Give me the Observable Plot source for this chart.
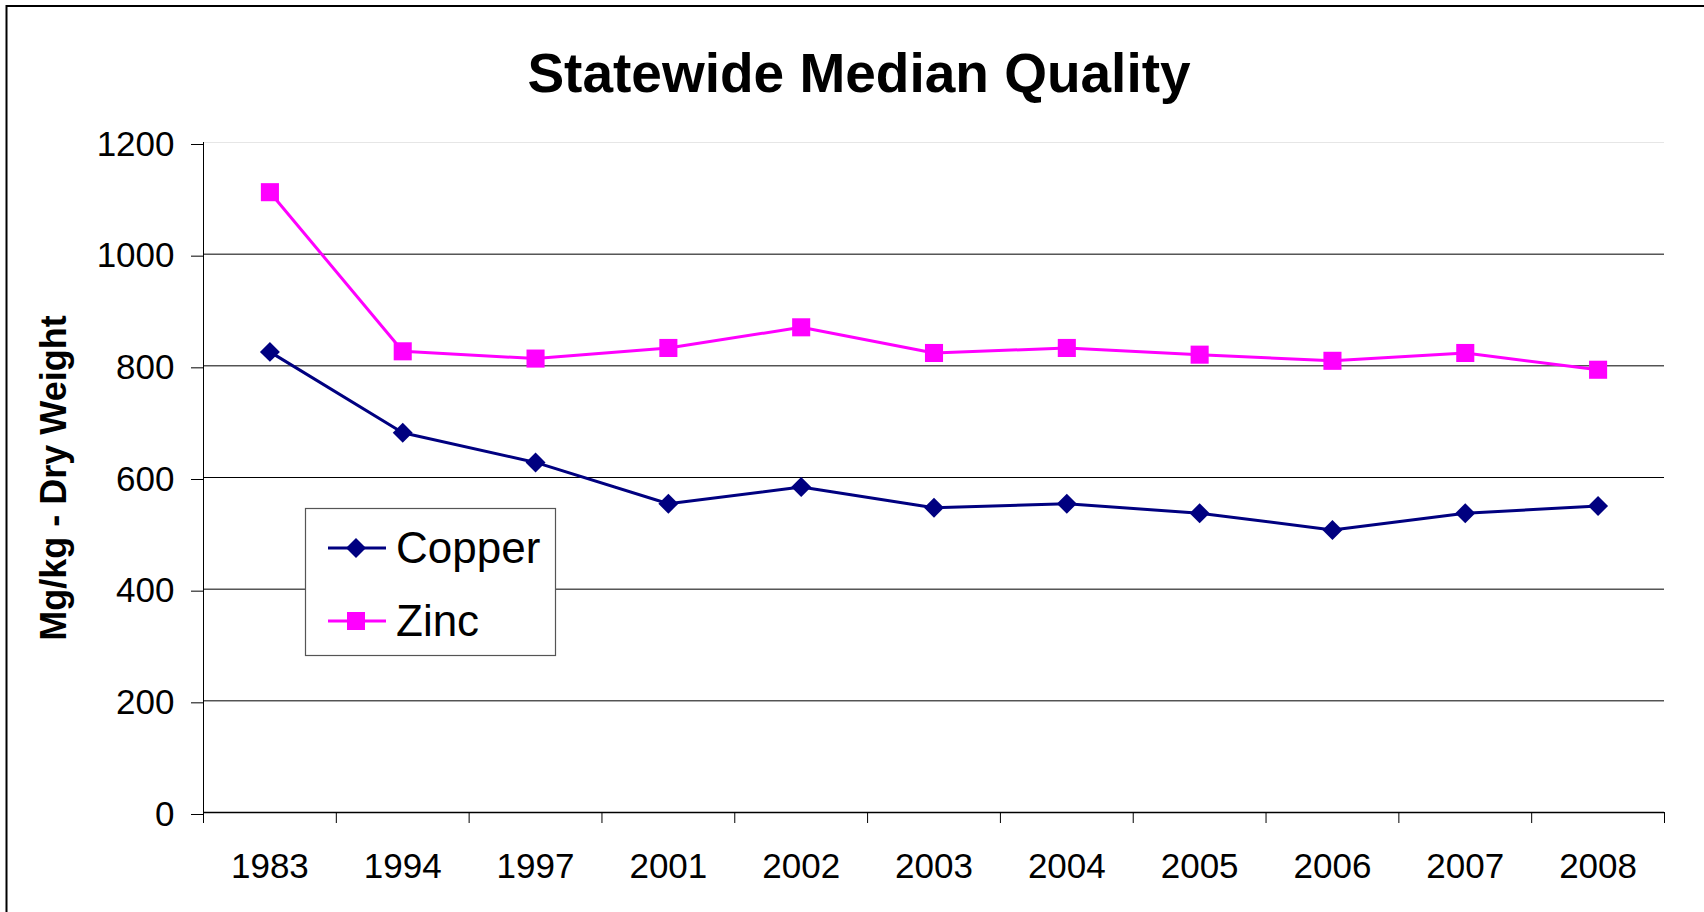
<!DOCTYPE html>
<html>
<head>
<meta charset="utf-8">
<script src="https://cdn.jsdelivr.net/npm/d3@7"></script>
<script src="https://cdn.jsdelivr.net/npm/@observablehq/plot@0.6"></script>
<style>
  html, body { margin: 0; padding: 0; background: #fff; }
  #chart { position: relative; width: 1704px; height: 912px; }
</style>
</head>
<body>
<div id="chart"></div>
<script>
// ---- data ----
const title = "Statewide Median Quality";
const yLabel = "Mg/kg - Dry Weight";
const years = ["1983","1994","1997","2001","2002","2003","2004","2005","2006","2007","2008"];
const copper = [825, 680, 627, 553, 583, 546, 553, 536, 506, 536, 549];
const zinc   = [1111, 826, 813, 832, 869, 823, 832, 820, 809, 823, 793];
const yTicks = [0, 200, 400, 600, 800, 1000, 1200];
const seriesNames = ["Copper", "Zinc"];
const seriesColors = ["#000080", "#FF00FF"];

// ---- build tables ----
const copperData = years.map((y, k) => ({i: k + 0.5, year: y, v: copper[k]}));
const zincData = years.map((y, k) => ({i: k + 0.5, year: y, v: zinc[k]}));
const boundaries = d3.range(years.length + 1);
const centers = d3.range(years.length).map(k => k + 0.5);

const FONT = "'Liberation Sans', Arial, Helvetica, sans-serif";

const svg = Plot.plot({
  width: 1704,
  height: 912,
  marginLeft: 203,
  marginRight: 40,
  marginTop: 142,
  marginBottom: 100,
  style: {fontFamily: FONT, fontSize: "35px", background: "white", color: "#000", overflow: "visible"},
  x: {type: "linear", domain: [0, years.length]},
  y: {domain: [0, 1200]},
  marks: [
    Plot.gridY(yTicks.filter(d => d > 0 && d < 1200), {stroke: "#000", strokeOpacity: 1, strokeWidth: 1}),
    Plot.gridY([1200], {stroke: "#e6e6e6", strokeOpacity: 1, strokeWidth: 1}),
    Plot.ruleY([0], {stroke: "#000", strokeWidth: 1.5}),
    Plot.ruleX([0], {stroke: "#000", strokeWidth: 1}),
    Plot.axisY(yTicks, {tickSize: 12, tickPadding: 17, fontSize: 35, dy: 2, label: null, stroke: "#000",
      tickFormat: d => String(d)}),
    Plot.axisX(boundaries, {tickSize: 11, tickFormat: () => "", label: null, stroke: "#000"}),
    Plot.axisX(centers, {tickSize: 0, tickPadding: 41, fontSize: 35, label: null,
      tickFormat: d => years[Math.floor(d)]}),
    Plot.line(copperData, {x: "i", y: "v", stroke: seriesColors[0], strokeWidth: 3}),
    Plot.dot(copperData, {x: "i", y: "v", symbol: "diamond2", r: 9, fill: seriesColors[0], stroke: "none"}),
    Plot.line(zincData, {x: "i", y: "v", stroke: seriesColors[1], strokeWidth: 3}),
    Plot.dot(zincData, {x: "i", y: "v", symbol: "square", r: 10.2, fill: seriesColors[1], stroke: "none"})
  ]
});

document.getElementById("chart").appendChild(svg);

const s = d3.select(svg);

// chart border (top and left)
s.append("path")
  .attr("d", "M6.5,912V6H1704")
  .attr("fill", "none")
  .attr("stroke", "#000")
  .attr("stroke-width", 2);

// title
s.append("text")
  .attr("x", 859)
  .attr("y", 92)
  .attr("text-anchor", "middle")
  .attr("font-family", FONT)
  .attr("font-weight", "bold")
  .attr("font-size", 55)
  .attr("fill", "#000")
  .text(title);

// y label
s.append("text")
  .attr("transform", "translate(66,478) rotate(-90)")
  .attr("text-anchor", "middle")
  .attr("font-family", FONT)
  .attr("font-weight", "bold")
  .attr("font-size", 36)
  .attr("fill", "#000")
  .text(yLabel);

// legend
const lg = s.append("g").attr("font-family", FONT).attr("text-anchor", "start");
lg.append("rect")
  .attr("x", 305.5).attr("y", 508.5).attr("width", 250).attr("height", 147)
  .attr("fill", "#fff").attr("stroke", "#555").attr("stroke-width", 1.2);
const rows = [
  {name: seriesNames[0], color: seriesColors[0], sym: d3.symbolDiamond2, size: 255, cy: 548, base: 563},
  {name: seriesNames[1], color: seriesColors[1], sym: d3.symbolSquare, size: 324, cy: 621, base: 636}
];
rows.forEach(r => {
  lg.append("line").attr("x1", 328).attr("x2", 386).attr("y1", r.cy).attr("y2", r.cy)
    .attr("stroke", r.color).attr("stroke-width", 3);
  lg.append("path").attr("d", d3.symbol(r.sym, r.size)())
    .attr("transform", `translate(356,${r.cy})`).attr("fill", r.color);
  lg.append("text").attr("x", 396).attr("y", r.base).attr("font-size", 44)
    .attr("text-anchor", "start").attr("fill", "#000").text(r.name);
});
</script>
</body>
</html>
